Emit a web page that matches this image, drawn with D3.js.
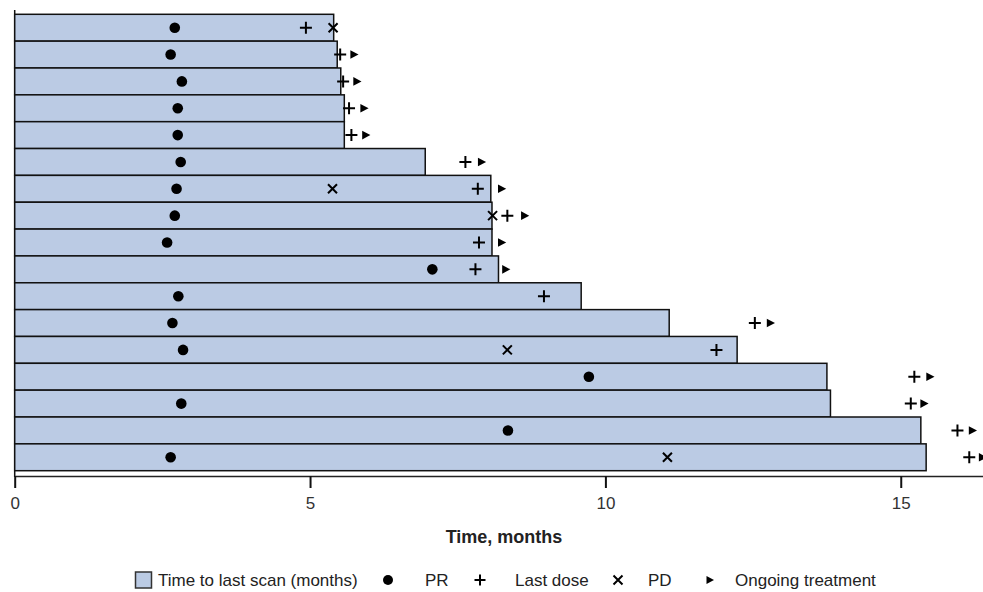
<!DOCTYPE html>
<html>
<head>
<meta charset="utf-8">
<script src="https://cdn.jsdelivr.net/npm/d3@7"></script>
<style>
  html, body { margin: 0; padding: 0; background: #fff; }
  svg { display: block; font-family: "Liberation Sans", Arial, sans-serif; }
</style>
</head>
<body>
<svg id="chart" width="983" height="592"></svg>
<script>
// ---- Data (months) ----
const patients = d3.range(1, 18).map(i => "P" + i);
const scanEnd  = [5.40, 5.46, 5.52, 5.58, 5.58, 6.95, 8.06, 8.08, 8.08, 8.19, 9.59, 11.08, 12.23, 13.75, 13.81, 15.34, 15.43];
const prTime   = [2.71, 2.64, 2.83, 2.76, 2.76, 2.81, 2.74, 2.71, 2.58, 7.07, 2.77, 2.67, 2.85, 9.72, 2.82, 8.35, 2.64];
const lastDose = [4.93, 5.51, 5.56, 5.66, 5.70, 7.63, 7.84, 8.34, 7.86, 7.80, 8.96, 12.53, 11.88, 15.23, 15.17, 15.96, 16.16];
const pdTime   = [5.39, null, null, null, null, null, 5.38, 8.09, null, null, null, null, 8.34, null, null, null, 11.05];
const ongoing  = [null, 5.75, 5.80, 5.92, 5.95, 7.91, 8.25, 8.64, 8.25, 8.32, null, 12.80, null, 15.50, 15.40, 16.22, 16.39];
const xTicks   = [0, 5, 10, 15];
const legendLabels = ["Time to last scan (months)", "PR", "Last dose", "PD", "Ongoing treatment"];

const svg = d3.select("#chart");
const x = d3.scaleLinear().domain([0, 16.5]).range([14.7, 14.7 + 59.07 * 16.5]);
const y = d3.scaleBand().domain(patients).range([14.3, 470.7]).paddingInner(0).paddingOuter(0);
const cy = p => y(p) + y.bandwidth() / 2;

// left vertical line
svg.append("line")
  .attr("x1", x(0)).attr("x2", x(0)).attr("y1", 10).attr("y2", 477)
  .attr("stroke", "#111").attr("stroke-width", 1.5);

// bars
svg.append("g").selectAll("rect").data(patients).join("rect")
  .attr("x", x(0))
  .attr("y", p => y(p))
  .attr("width", (p, i) => x(scanEnd[i]) - x(0))
  .attr("height", y.bandwidth())
  .attr("fill", "#bbcbe4")
  .attr("stroke", "#111")
  .attr("stroke-width", 1.5);

// x axis
const axisG = svg.append("g").attr("transform", "translate(0,476)")
  .call(d3.axisBottom(x).tickValues(xTicks).tickSize(12).tickSizeOuter(0).tickFormat(d3.format("d")));
axisG.select(".domain").attr("stroke", "#222").attr("stroke-width", 1.5);
axisG.selectAll(".tick line").attr("stroke", "#111").attr("stroke-width", 2);
axisG.selectAll(".tick text").attr("font-size", 17).attr("fill", "#333")
  .attr("font-family", "Liberation Sans, Arial, sans-serif").attr("dy", "1.05em");

svg.append("text").attr("x", 504).attr("y", 543).attr("text-anchor", "middle")
  .attr("font-size", 18).attr("font-weight", "bold").attr("fill", "#222").text("Time, months");

// marker shapes
const plusPath = "M-6,0L6,0M0,-6L0,6";
const xPath = "M-4.5,-4.5L4.5,4.5M-4.5,4.5L4.5,-4.5";
const triPath = "M-4,-4.3L4.2,0L-4,4.3Z";

const marks = svg.append("g");
// PR dots
marks.selectAll("circle.pr").data(patients).join("circle").attr("class", "pr")
  .attr("cx", (p, i) => x(prTime[i])).attr("cy", cy).attr("r", 5.3).attr("fill", "#000");
// Last dose
marks.selectAll("path.ld").data(patients).join("path").attr("class", "ld")
  .attr("transform", (p, i) => `translate(${x(lastDose[i])},${cy(p)})`)
  .attr("d", plusPath).attr("stroke", "#000").attr("stroke-width", 2).attr("fill", "none");
// PD
marks.selectAll("path.pd").data(patients.filter((p, i) => pdTime[i] != null)).join("path").attr("class", "pd")
  .attr("transform", p => `translate(${x(pdTime[patients.indexOf(p)])},${cy(p)})`)
  .attr("d", xPath).attr("stroke", "#000").attr("stroke-width", 2).attr("fill", "none");
// Ongoing
marks.selectAll("path.og").data(patients.filter((p, i) => ongoing[i] != null)).join("path").attr("class", "og")
  .attr("transform", p => `translate(${x(ongoing[patients.indexOf(p)])},${cy(p)})`)
  .attr("d", triPath).attr("fill", "#000");

// legend
const lg = svg.append("g").attr("font-size", 17).attr("fill", "#222");
const ly = 580;
lg.append("rect").attr("x", 135.5).attr("y", 572).attr("width", 16).attr("height", 16)
  .attr("fill", "#bbcbe4").attr("stroke", "#333").attr("stroke-width", 1.5);
lg.append("text").attr("x", 158).attr("y", ly + 6).text(legendLabels[0]);
lg.append("circle").attr("cx", 388).attr("cy", ly).attr("r", 5).attr("fill", "#000");
lg.append("text").attr("x", 425).attr("y", ly + 6).text(legendLabels[1]);
lg.append("path").attr("transform", `translate(480,${ly})`).attr("d", "M-5.5,0L5.5,0M0,-5.5L0,5.5")
  .attr("stroke", "#000").attr("stroke-width", 2);
lg.append("text").attr("x", 515).attr("y", ly + 6).text(legendLabels[2]);
lg.append("path").attr("transform", `translate(618,${ly})`).attr("d", "M-4.5,-4.5L4.5,4.5M-4.5,4.5L4.5,-4.5")
  .attr("stroke", "#000").attr("stroke-width", 2);
lg.append("text").attr("x", 648).attr("y", ly + 6).text(legendLabels[3]);
lg.append("path").attr("transform", `translate(710,${ly})`).attr("d", "M-3.5,-4L4,0L-3.5,4Z").attr("fill", "#000");
lg.append("text").attr("x", 735).attr("y", ly + 6).text(legendLabels[4]);
</script>
</body>
</html>
